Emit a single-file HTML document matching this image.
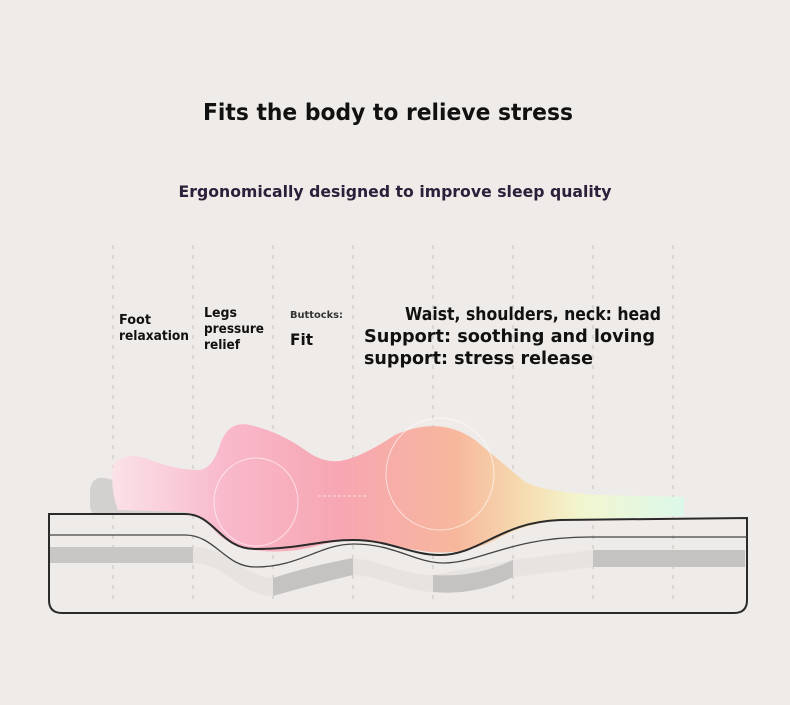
<!DOCTYPE html>
<html><head><meta charset="utf-8"><style>
html,body{margin:0;padding:0;background:#efebe8;}
svg{display:block;}
text{font-family:"DejaVu Sans","Liberation Sans",sans-serif;font-weight:bold;}
</style></head><body>
<svg width="790" height="705" viewBox="0 0 790 705" xmlns="http://www.w3.org/2000/svg">
<defs>
<linearGradient id="g" x1="110" y1="0" x2="685" y2="0" gradientUnits="userSpaceOnUse">
<stop offset="0" stop-color="#fbe3e8"/>
<stop offset="0.2" stop-color="#f8b9cb"/>
<stop offset="0.4" stop-color="#f7a6b2"/>
<stop offset="0.6" stop-color="#f7b79d"/>
<stop offset="0.72" stop-color="#f6dcb0"/>
<stop offset="0.82" stop-color="#f2f6cf"/>
<stop offset="1" stop-color="#dcf8ea"/>
</linearGradient>
</defs>
<rect width="790" height="705" fill="#efebe8"/>
<text x="388" y="120" font-size="23" fill="#111" text-anchor="middle" textLength="370" lengthAdjust="spacingAndGlyphs">Fits the body to relieve stress</text>
<text x="395" y="197" font-size="16" fill="#2b1f3a" text-anchor="middle" textLength="433" lengthAdjust="spacingAndGlyphs">Ergonomically designed to improve sleep quality</text>
<g stroke="#c4c0bd" stroke-width="1" stroke-dasharray="4,6">
<line x1="113" y1="245" x2="113" y2="605"/><line x1="193" y1="245" x2="193" y2="605"/>
<line x1="273" y1="245" x2="273" y2="605"/><line x1="353" y1="245" x2="353" y2="605"/>
<line x1="433" y1="245" x2="433" y2="605"/><line x1="513" y1="245" x2="513" y2="605"/>
<line x1="593" y1="245" x2="593" y2="605"/><line x1="673" y1="245" x2="673" y2="605"/>
</g>
<g fill="#111">
<text x="119" y="324" font-size="13" textLength="32" lengthAdjust="spacingAndGlyphs">Foot</text>
<text x="119" y="340" font-size="13" textLength="70" lengthAdjust="spacingAndGlyphs">relaxation</text>
<text x="204" y="317" font-size="13" textLength="33" lengthAdjust="spacingAndGlyphs">Legs</text>
<text x="204" y="333" font-size="13" textLength="60" lengthAdjust="spacingAndGlyphs">pressure</text>
<text x="204" y="349" font-size="13" textLength="36" lengthAdjust="spacingAndGlyphs">relief</text>
<text x="290" y="318" font-size="10" fill="#333" textLength="53" lengthAdjust="spacingAndGlyphs">Buttocks:</text>
<text x="290" y="345" font-size="16" textLength="23" lengthAdjust="spacingAndGlyphs">Fit</text>
<text x="405" y="320" font-size="18" textLength="256" lengthAdjust="spacingAndGlyphs">Waist, shoulders, neck: head</text>
<text x="364" y="342" font-size="18" textLength="291" lengthAdjust="spacingAndGlyphs">Support: soothing and loving</text>
<text x="364" y="364" font-size="18" textLength="229" lengthAdjust="spacingAndGlyphs">support: stress release</text>
</g>
<path d="M90 490 Q92 476 105 478 L195 500 L200 515 L95 515 Q90 512 90 505 Z" fill="#d3d1d0"/>
<path d="M113 465 Q125 452 145 458 Q175 470 198 470 Q212 470 220 445 Q228 420 250 425 Q280 432 305 450 Q325 465 345 460 Q365 455 395 435 Q440 415 475 440 Q505 465 525 482 Q545 492 600 495 L684 497 L684 516 L560 520 Q520 525 495 540 Q465 555 430 552 Q400 548 375 542 Q350 537 320 545 Q285 555 255 550 Q225 545 212 528 Q200 515 185 512 L118 510 Q110 490 113 465 Z" fill="url(#g)"/>
<ellipse cx="256" cy="502" rx="42" ry="44" fill="none" stroke="#fff" stroke-opacity="0.6" stroke-width="1"/>
<ellipse cx="440" cy="474" rx="54" ry="56" fill="none" stroke="#fff" stroke-opacity="0.6" stroke-width="1"/>
<line x1="318" y1="496" x2="367" y2="496" stroke="#fff" stroke-opacity="0.6" stroke-dasharray="3,2"/>
<path d="M49 547 L193 547 C230 547 245 578 273 578 L353 558 C385 562 405 575 433 575 L513 560 L593 550 L745 550 L745 567 L593 567 L513 577 C480 590 460 593 433 592 C400 590 385 577 353 575 L273 596 C240 596 225 563 193 563 L49 563 Z" fill="#e6e3e1"/>
<path d="M49 547 L193 547 L193 563 L49 563 Z" fill="#c8c7c6"/>
<path d="M273 578 Q310 566 353 558 L353 575 Q310 585 273 596 Z" fill="#c4c3c2"/>
<path d="M433 575 Q475 578 513 560 L513 577 Q475 596 433 592 Z" fill="#c4c3c2"/>
<rect x="593" y="550" width="152" height="17" fill="#c4c3c2"/>
<path d="M49 514 L185 514 C215 514 220 549 255 549 C300 549 320 540 353 540 C390 540 410 555 440 555 C480 555 500 522 560 520 L747 518 L747 600 Q747 613 734 613 L62 613 Q49 613 49 600 Z" fill="none" stroke="#2a2a2a" stroke-width="2"/>
<path d="M49 535 L185 535 C215 535 225 567 255 567 C300 567 320 544 354 544 C395 544 415 563 444 563 C480 563 510 537 590 537 L747 537" fill="none" stroke="#444" stroke-width="1.3"/>
</svg>
</body></html>
